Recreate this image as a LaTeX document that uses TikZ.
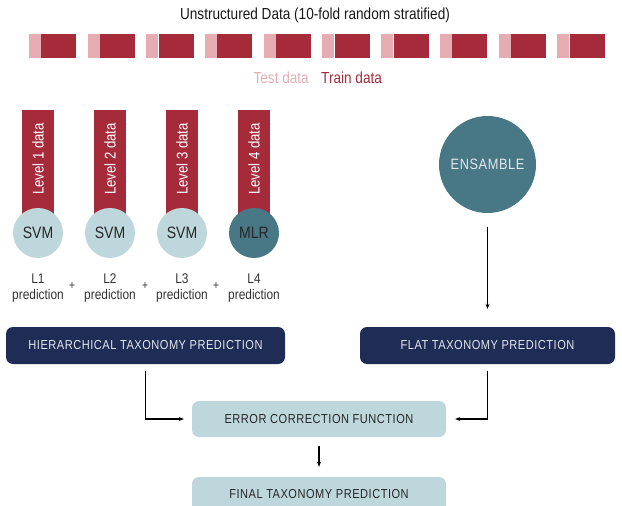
\documentclass[tikz,border=0pt]{standalone}
\usepackage{fontspec}
\setmainfont{Liberation Sans}[FakeStretch=0.85]
\newfontfamily\capsfont{Liberation Sans}[FakeStretch=0.85,LetterSpace=4]
\usetikzlibrary{arrows.meta}
\definecolor{dred}{HTML}{A62B3A}
\definecolor{pinkc}{HTML}{E5ADB2}
\definecolor{lblue}{HTML}{BED7DC}
\definecolor{teal2}{HTML}{487786}
\definecolor{navy}{HTML}{1F2C55}
\definecolor{txtgray}{HTML}{333333}
\definecolor{boxtxt}{HTML}{E4E7EE}
\tikzset{
  testpart/.style={fill=pinkc,draw=none,minimum width=12pt,minimum height=24pt,inner sep=0pt,anchor=west},
  trainpart/.style={fill=dred,draw=none,minimum width=35pt,minimum height=24pt,inner sep=0pt,anchor=west},
  levelbar/.style={fill=dred,draw=none,minimum width=32pt,minimum height=120pt,inner sep=0pt,anchor=north},
  leveltxt/.style={text=white,font=\fontsize{15.5}{17}\selectfont,rotate=90,inner sep=0pt},
  model/.style={circle,fill=lblue,draw=none,minimum size=50pt,inner sep=0pt,font=\fontsize{16.5}{18}\selectfont,text=black!85},
  mlr/.style={model,fill=teal2},
  predlbl/.style={align=center,text=txtgray,font=\fontsize{14}{16.5}\selectfont,inner sep=0pt},
  plus/.style={text=txtgray,font=\fontsize{12}{13}\selectfont,inner sep=0pt},
  darkbox/.style={rounded corners=7pt,fill=navy,draw=none,minimum height=37pt,inner sep=0pt,text=boxtxt,font=\capsfont\fontsize{13}{15}\selectfont},
  lightbox/.style={rounded corners=7pt,fill=lblue,draw=none,minimum height=36pt,inner sep=0pt,text=black!85,font=\capsfont\fontsize{13}{15}\selectfont},
  arr/.style={-{Stealth[length=5pt,width=4pt]},line width=1.1pt,black}
}
\begin{document}
\begin{tikzpicture}[x=1pt,y=-1pt]
\useasboundingbox (0,0) rectangle (622,506);
% title
\node[text=black!90,font=\fontsize{16}{18}\selectfont,inner sep=0pt] (title) at (315,15) {Unstructured Data (10-fold random stratified)};
% folds
\foreach \i in {0,...,9}{
  \node[testpart] (te\i) at ({28.7+58.7*\i},46) {};
  \node[trainpart] (tr\i) at (te\i.east) {};
}
\node[text=pinkc,font=\fontsize{16}{18}\selectfont,inner sep=0pt,anchor=east] (testlbl) at (309,78) {Test data};
\node[text=dred,font=\fontsize{16}{18}\selectfont,inner sep=0pt,anchor=west] (trainlbl) at (321,78) {Train data};
% levels
\foreach \n/\x in {1/38,2/110,3/182,4/254}{
  \node[levelbar] (bar\n) at (\x,110) {};
  \node[leveltxt] (lt\n) at (\x,159) {Level \n\ data};
}
\node[model] (m1) at (38,233) {SVM};
\node[model] (m2) at (110,233) {SVM};
\node[model] (m3) at (182,233) {SVM};
\node[mlr] (m4) at (254,233) {MLR};
\foreach \n/\x in {1/38,2/110,3/182,4/254}{
  \node[predlbl] (p\n) at (\x,288) {L\n\\prediction};
}
\node[plus] (pl1) at (72,286) {+};
\node[plus] (pl2) at (145,286) {+};
\node[plus] (pl3) at (216,286) {+};
% ensemble
\node[circle,fill=teal2,draw=none,minimum size=97pt,inner sep=0pt,text=boxtxt,font=\capsfont\fontsize{15}{17}\selectfont] (ens) at (487.5,164.5) {ENSAMBLE};
% boxes
\node[darkbox,minimum width=279pt] (hier) at (145.5,345.5) {HIERARCHICAL TAXONOMY PREDICTION};
\node[darkbox,minimum width=255pt] (flat) at (487.5,345.5) {FLAT TAXONOMY PREDICTION};
\node[lightbox,minimum width=254pt] (err) at (319,419) {ERROR CORRECTION FUNCTION};
\node[lightbox,minimum width=254pt] (final) at (319,495) {\raisebox{3pt}{FINAL TAXONOMY PREDICTION}};
% connectors
\draw[arr] ([yshift=-14pt]ens.south) -- ([yshift=18pt]flat.north);
\draw[arr] ([yshift=-7pt]hier.south) |- ([xshift=-8pt]err.west);
\draw[arr] ([yshift=-7pt]flat.south) |- ([xshift=9pt]err.east);
\draw[arr] ([yshift=-9pt]err.south) -- ([yshift=10pt]final.north);
\end{tikzpicture}
\end{document}
